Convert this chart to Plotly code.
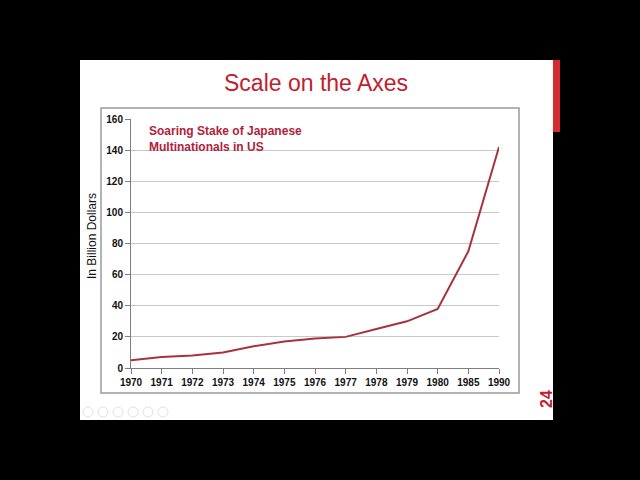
import plotly.graph_objects as go

years = ["1970", "1971", "1972", "1973", "1974", "1975", "1976", "1977",
         "1978", "1979", "1980", "1985", "1990"]
stake = [5, 7, 8, 10, 14, 17, 19, 20, 25, 30, 38, 75, 142]
y_ticks = [0, 20, 40, 60, 80, 100, 120, 140, 160]

W, H = 640, 480
def px(x): return x / W
def py(y): return 1 - y / H

RED = "#c0202e"
LINE = "#a8323c"
tick_font = dict(family="Liberation Sans Narrow, Arial Narrow, sans-serif", size=10,
                 color="#111111", weight="bold")

fig = go.Figure()
fig.add_trace(go.Scatter(x=years, y=stake, mode="lines",
                         line=dict(color=LINE, width=2), hoverinfo="skip"))

shapes = [
    dict(type="rect", xref="paper", yref="paper", x0=px(80), x1=px(553), y0=py(420), y1=py(60),
         fillcolor="white", line=dict(width=0), layer="below"),
    dict(type="rect", xref="paper", yref="paper", x0=px(553), x1=px(560), y0=py(132), y1=py(60),
         fillcolor="#d42a30", line=dict(width=0), layer="below"),
    dict(type="rect", xref="paper", yref="paper", x0=px(101), x1=px(519), y0=py(393), y1=py(108),
         fillcolor="white", line=dict(color="#9a9a9a", width=1.5), layer="below"),
]
# faint slideshow control circles
for cx in [88, 103, 118, 133, 148, 163]:
    shapes.append(dict(type="circle", xref="paper", yref="paper",
                       x0=px(cx - 5), x1=px(cx + 5), y0=py(417), y1=py(407),
                       line=dict(color="#e2e2e2", width=1), layer="below"))

annotations = [
    dict(text="Scale on the Axes", xref="paper", yref="paper", x=px(316), y=py(83),
         showarrow=False, font=dict(family="Liberation Sans, Arial, sans-serif", size=23, color=RED),
         xanchor="center", yanchor="middle"),
    dict(text="<b>Soaring Stake of Japanese<br>Multinationals in US</b>", xref="paper", yref="paper",
         x=px(147), y=py(122), showarrow=False, align="left",
         font=dict(family="Liberation Sans, Arial, sans-serif", size=12, color="#b0223a"),
         xanchor="left", yanchor="top"),
    dict(text="In Billion Dollars", xref="paper", yref="paper", x=px(92), y=py(236),
         showarrow=False, textangle=-90,
         font=dict(family="Liberation Sans, Arial, sans-serif", size=12, color="#111111"),
         xanchor="center", yanchor="middle"),
    dict(text="<b>24</b>", xref="paper", yref="paper", x=px(546), y=py(399),
         showarrow=False, textangle=-90,
         font=dict(family="Liberation Sans, Arial, sans-serif", size=16, color=RED),
         xanchor="center", yanchor="middle"),
]

fig.update_layout(
    width=W, height=H, autosize=False,
    margin=dict(l=0, r=0, t=0, b=0, pad=0, autoexpand=False),
    paper_bgcolor="black",
    plot_bgcolor="rgba(0,0,0,0)",
    showlegend=False,
    shapes=shapes,
    annotations=annotations,
    xaxis=dict(domain=[px(131), px(499)], type="category", range=[0, 12], automargin=False,
               showgrid=False, zeroline=False,
               showline=True, linecolor="#7f7f7f", linewidth=1,
               ticks="outside", ticklen=5, tickcolor="#7f7f7f",
               tickfont=tick_font, fixedrange=True),
    yaxis=dict(domain=[py(368), py(119)], range=[0, 160], tickvals=y_ticks, automargin=False,
               showgrid=True, gridcolor="#c8c8c8", gridwidth=1, zeroline=False,
               showline=True, linecolor="#7f7f7f", linewidth=1,
               ticks="outside", ticklen=5, tickcolor="#7f7f7f",
               tickfont=tick_font, fixedrange=True),
)

fig.write_html("out.html", config={"responsive": False, "displayModeBar": False},
               post_script="document.body.style.margin='0';document.body.style.background='black';")
